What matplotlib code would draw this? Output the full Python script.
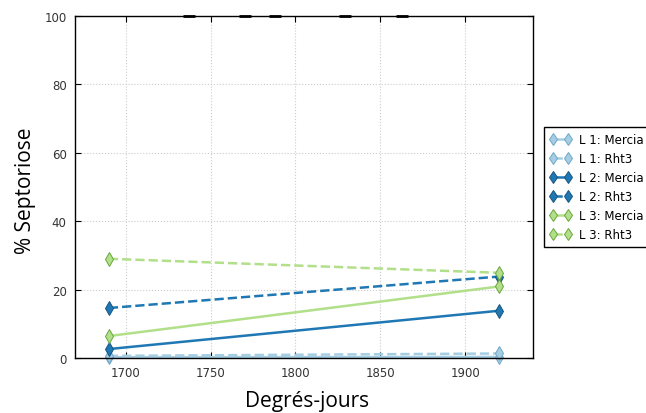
import matplotlib

matplotlib.use("Agg")
import matplotlib.pyplot as plt

# Septoria severity per line / variety at two thermal times
degree_days = [1690, 1920]
series_labels = ["L 1: Mercia", "L 1: Rht3", "L 2: Mercia", "L 2: Rht3", "L 3: Mercia", "L 3: Rht3"]
l1_mercia = [0.2, 0.3]
l1_rht3 = [0.6, 1.3]
l2_mercia = [2.6, 13.8]
l2_rht3 = [14.6, 23.8]
l3_mercia = [6.4, 20.9]
l3_rht3 = [29.0, 24.9]

# stray caps sitting on the top spine
cap_x = [1737, 1770, 1788, 1829, 1863]
cap_y = [100, 100, 100, 100, 100]

c_light_blue = "#a6cee3"
c_blue = "#1f78b4"
c_light_green = "#b2df8a"
edge_light_blue = "#6fa8c8"
edge_green = "#6aa63c"

series = [
    (l1_mercia, c_light_blue, edge_light_blue, "-"),
    (l1_rht3, c_light_blue, edge_light_blue, "--"),
    (l2_mercia, c_blue, "#17557f", "-"),
    (l2_rht3, c_blue, "#17557f", "--"),
    (l3_mercia, c_light_green, edge_green, "-"),
    (l3_rht3, c_light_green, edge_green, "--"),
]

fig = plt.figure(figsize=(6.46, 4.14), dpi=100)
ax = fig.add_axes([0.116, 0.133, 0.709, 0.826])

for (vals, color, edge, ls), label in zip(series, series_labels):
    ax.plot(
        degree_days, vals, linestyle=ls, color=color, linewidth=1.8,
        marker="d", markersize=7, markerfacecolor=color,
        markeredgecolor=edge, markeredgewidth=0.7, label=label, clip_on=False,
    )

ax.plot(cap_x, cap_y, linestyle="none", marker="_", markersize=8,
        markeredgewidth=2, color="black", clip_on=False)

ax.set_xlim(1670, 1940)
ax.set_ylim(0, 100)
ax.set_xticks([1700, 1750, 1800, 1850, 1900])
ax.set_yticks([0, 20, 40, 60, 80, 100])
ax.tick_params(direction="in", top=True, right=True, length=4,
               labelsize=8.5, colors="black", labelcolor="#333333", pad=6)
ax.grid(color="#cccccc", linestyle=":", linewidth=0.8)
for spine in ax.spines.values():
    spine.set_color("black")
    spine.set_linewidth(1.0)

fig.text(0.04, 0.54, "% Septoriose", rotation=90, ha="center", va="center",
         fontsize=15, family="Open Sans")
fig.text(0.475, 0.03, "Degrés-jours", ha="center", va="center",
         fontsize=15, family="Open Sans")

ax.legend(
    loc="upper left", bbox_to_anchor=(0.833, 0.704),
    bbox_transform=fig.transFigure, numpoints=2, fontsize=8.5,
    frameon=True, fancybox=False, edgecolor="black", framealpha=1,
    markerscale=0.85, handlelength=1.8, handletextpad=0.7,
    labelspacing=0.5, borderpad=0.5,
)

fig.savefig("out.png", dpi=100)
